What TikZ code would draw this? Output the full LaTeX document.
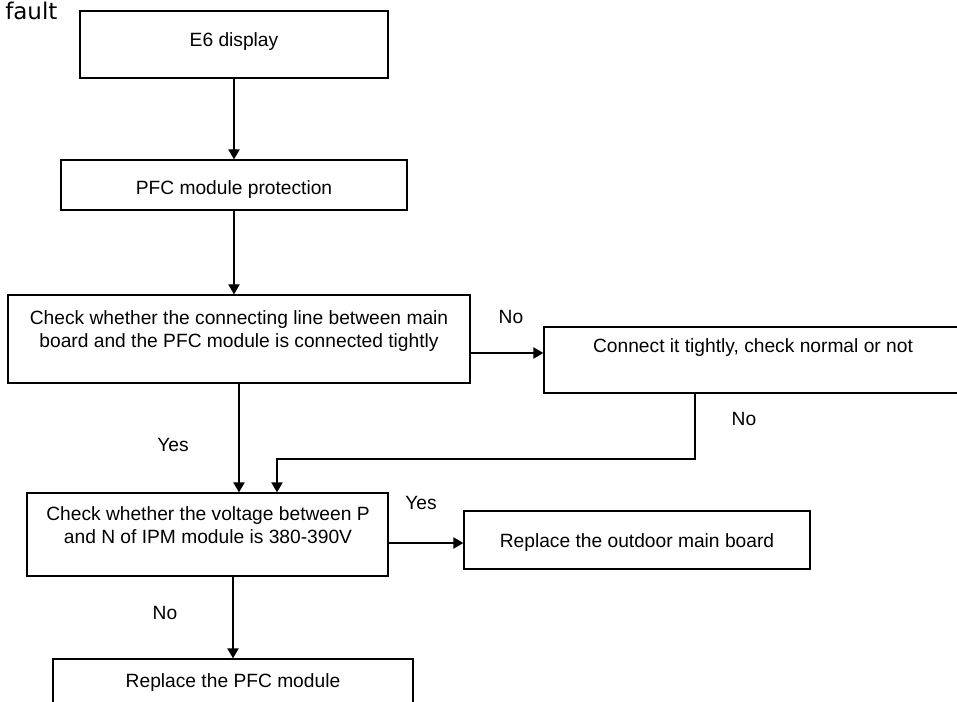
\documentclass[tikz,border=0pt]{standalone}
\usepackage{fontspec}
\setmainfont{Liberation Sans}
\newfontfamily\headfont{DejaVu Sans}
\usetikzlibrary{arrows.meta,fit}

\begin{document}
\begin{tikzpicture}[x=0.75pt,y=-0.75pt,
  box/.style={draw=black,line width=1pt,inner sep=0pt,fill=none},
  txt/.style={inner sep=0pt,align=center,font=\fontsize{14.4pt}{17.6pt}\selectfont},
  lbl/.style={inner sep=0pt,font=\fontsize{14.4pt}{17.6pt}\selectfont},
  arr/.style={line width=1pt,-{Triangle[length=7.5pt,width=8.5pt]}},
  wire/.style={line width=1pt}]
  \useasboundingbox (0,0) rectangle (957,702);
  \clip (0,0) rectangle (957,702);

  % heading
  \node[anchor=base west,inner sep=0pt,font=\headfont\fontsize{17.25pt}{20pt}\selectfont] (head) at (5,20) {fault};

  % process boxes
  \node[box,fit={(80,11) (388,78)}] (b1) {};
  \node[box,fit={(61,160) (407,210)}] (b2) {};
  \node[box,fit={(8,295) (470,383)}] (b3) {};
  \node[box,fit={(544,327) (962,393)}] (b4) {};
  \node[box,fit={(27,493) (388,576)}] (b5) {};
  \node[box,fit={(464,511) (810,569)}] (b6) {};
  \node[box,fit={(53,659) (413,730)}] (b7) {};

  % box texts
  \node[txt,anchor=north] (t1) at (234,32) {E6 display};
  \node[txt,anchor=north] (t2) at (234,180) {PFC module protection};
  \node[txt,anchor=north] (t3) at (239,310) {Check whether the connecting line between main\\board and the PFC module is connected tightly};
  \node[txt,anchor=north] (t4) at (753,338) {Connect it tightly, check normal or not};
  \node[txt,anchor=north] (t5) at (208,506) {Check whether the voltage between P\\and N of IPM module is 380-390V};
  \node[txt,anchor=north] (t6) at (637,533) {Replace the outdoor main board};
  \node[txt,anchor=north] (t7) at (233,673) {Replace the PFC module};

  % branch labels
  \node[lbl] (n1) at (511,317) {No};
  \node[lbl] (n2) at (744,419) {No};
  \node[lbl] (y1) at (173,445) {Yes};
  \node[lbl] (y2) at (421,503) {Yes};
  \node[lbl] (n3) at (165,613) {No};

  % routing points
  \coordinate (r1) at (0,353);
  \coordinate (k1) at (695,459);
  \coordinate (k2) at (277,459);
  \coordinate (r2) at (0,543);

  % connectors
  \draw[arr] (b1.south) -- (b2.north);
  \draw[arr] (b2.south) -- (b2.south |- b3.north);
  \draw[arr] (b3.east |- r1) -- (b4.west |- r1);
  \draw[arr] (b3.south) -- (b3.south |- b5.north);
  \draw[arr] (b4.south -| k1) -- (k1) -- (k2) -- (k2 |- b5.north);
  \draw[arr] (b5.east |- r2) -- (b6.west |- r2);
  \draw[arr] (b5.south -| b7.north) -- (b7.north);
\end{tikzpicture}
\end{document}
